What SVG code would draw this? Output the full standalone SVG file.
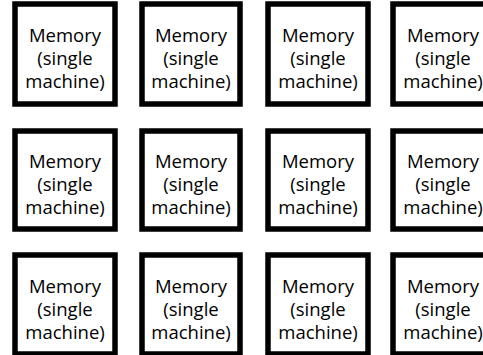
<svg xmlns="http://www.w3.org/2000/svg" width="483" height="355" viewBox="0 0 483 355">
<style>
rect.box{fill:#fff;stroke:#000;stroke-width:5.5}
text{font-family:"Open Sans","Liberation Sans",sans-serif;font-size:18.5px;fill:#000;text-anchor:middle}
</style>
<rect x="0" y="0" width="483" height="355" fill="#fff"/>
<defs>
<g id="lbl"><text y="-13">Memory</text><text y="10">(single</text><text y="33">machine)</text></g>
</defs>
<g id="n11"><rect class="box" x="15" y="4" width="100" height="100"/><use href="#lbl" x="65" y="55"/></g>
<g id="n12"><rect class="box" x="142" y="4" width="98" height="100"/><use href="#lbl" x="191" y="55"/></g>
<g id="n13"><rect class="box" x="268" y="4" width="100" height="100"/><use href="#lbl" x="318" y="55"/></g>
<g id="n14"><rect class="box" x="393" y="4" width="100" height="100"/><use href="#lbl" x="443" y="55"/></g>
<g id="n21"><rect class="box" x="15" y="131" width="100" height="98"/><use href="#lbl" x="65" y="181"/></g>
<g id="n22"><rect class="box" x="142" y="131" width="98" height="98"/><use href="#lbl" x="191" y="181"/></g>
<g id="n23"><rect class="box" x="268" y="131" width="100" height="98"/><use href="#lbl" x="318" y="181"/></g>
<g id="n24"><rect class="box" x="393" y="131" width="100" height="98"/><use href="#lbl" x="443" y="181"/></g>
<g id="n31"><rect class="box" x="15" y="255" width="100" height="99"/><use href="#lbl" x="65" y="306"/></g>
<g id="n32"><rect class="box" x="142" y="255" width="98" height="99"/><use href="#lbl" x="191" y="306"/></g>
<g id="n33"><rect class="box" x="268" y="255" width="100" height="99"/><use href="#lbl" x="318" y="306"/></g>
<g id="n34"><rect class="box" x="393" y="255" width="100" height="99"/><use href="#lbl" x="443" y="306"/></g>
<g id="connectors"/>
</svg>
